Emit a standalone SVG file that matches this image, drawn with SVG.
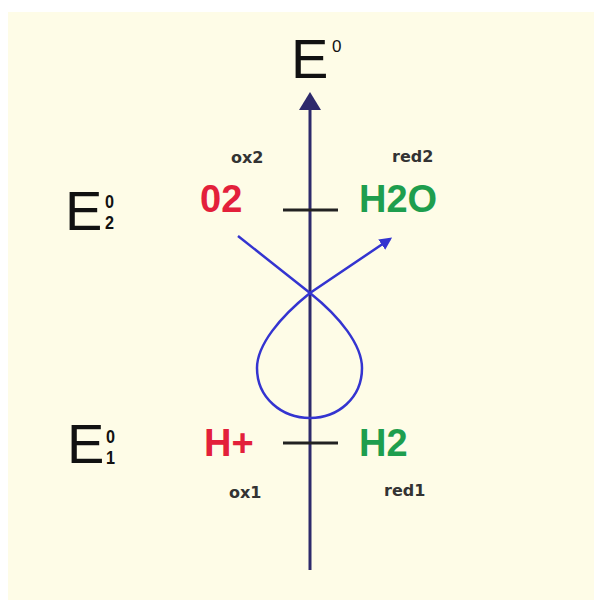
<svg xmlns="http://www.w3.org/2000/svg" width="603" height="604" viewBox="0 0 603 604">
<defs>
<style>
.big{font-family:"Liberation Sans",Arial,sans-serif;font-size:56px;fill:#111}
.sup{font-family:"Liberation Sans",Arial,sans-serif;font-size:17px;fill:#111}
.idx{font-family:"Liberation Sans",Arial,sans-serif;font-size:18px;font-weight:bold;fill:#111}
.sp{font-family:"Liberation Sans",Arial,sans-serif;font-size:38px;font-weight:bold}
.ox{fill:#E3203A}
.red{fill:#1E9E4E}
.lab{font-family:"DejaVu Sans",sans-serif;font-size:16px;font-weight:bold;fill:#333}
.tick{stroke:#222;stroke-width:3}
</style>
<marker id="ah" viewBox="0 0 10 10" refX="8" refY="5" markerWidth="5" markerHeight="5" orient="auto" markerUnits="strokeWidth">
<path d="M0,0 L10,5 L0,10 Z" fill="#3434D0"/>
</marker>
</defs>
<rect x="0" y="0" width="603" height="604" fill="#ffffff"/>
<rect x="8" y="12" width="586" height="588" fill="#FEFCE7"/>
<g id="connectors">
<line x1="310" y1="570" x2="310" y2="108" stroke="#2E2A6C" stroke-width="3"/>
<path d="M299,110 L310,92 L321,110 Z" fill="#2E2A6C"/>
<line class="tick" x1="283" y1="210" x2="338" y2="210"/>
<line class="tick" x1="283" y1="443" x2="338" y2="443"/>
<path d="M238,236 L310,293 C340,317 362,345 362,368 C362,398 338,418 310,418 C282,418 257,398 257,368 C257,345 280,317 310,293 L390,239" fill="none" stroke="#3434D0" stroke-width="2.5" marker-end="url(#ah)"/>
</g>
<g id="axis-label">
<text class="big" x="291" y="78" font-size="58">E</text>
<text class="sup" x="332" y="52">0</text>
</g>
<g id="E2">
<text class="big" x="65" y="230">E</text>
<text class="idx" transform="translate(105,208) scale(0.9,1)">0</text>
<text class="idx" transform="translate(105,229) scale(0.9,1)">2</text>
</g>
<g id="E1">
<text class="big" x="67" y="463">E</text>
<text class="idx" transform="translate(106,443) scale(0.9,1)">0</text>
<text class="idx" transform="translate(106,464) scale(0.9,1)">1</text>
</g>
<g id="ox2">
<text class="lab" x="231" y="163">ox2</text>
<text class="sp ox" x="200" y="212">02</text>
</g>
<g id="red2">
<text class="lab" x="392" y="162">red2</text>
<text class="sp red" x="359" y="212">H2O</text>
</g>
<g id="ox1">
<text class="sp ox" x="204" y="456">H+</text>
<text class="lab" x="229" y="498">ox1</text>
</g>
<g id="red1">
<text class="sp red" x="359" y="456">H2</text>
<text class="lab" x="384" y="496">red1</text>
</g>
</svg>
